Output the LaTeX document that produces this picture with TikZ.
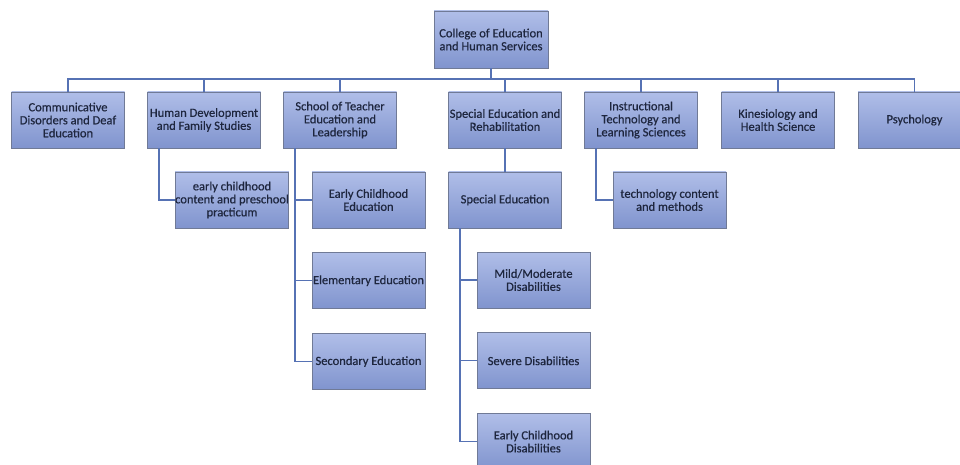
\documentclass[tikz,border=0pt]{standalone}
\usepackage{fontspec}
\setmainfont{Carlito}
\newfontfamily\boxfont{Carlito}[FakeBold=0.5]
\usetikzlibrary{positioning}

\definecolor{boxtop}{RGB}{176,190,232}
\definecolor{boxbot}{RGB}{128,148,206}
\definecolor{boxline}{RGB}{112,122,150}
\definecolor{linkblue}{RGB}{86,114,180}
\definecolor{ink}{RGB}{30,38,62}

\begin{document}
\begin{tikzpicture}[
        x=1pt, y=-1pt, % pixel grid, y runs down
        unit/.style = {draw=boxline, line width=0.8pt, top color=boxtop, bottom color=boxbot,
                minimum width=113pt, minimum height=56pt, align=center,
                inner sep=0pt, text=ink, font=\boxfont\fontsize{12.5}{13}\selectfont}, % Стиль блоков
        link/.style = {draw=linkblue, line width=1.3pt},
    ]
    \useasboundingbox (0,0) rectangle (960,465);

    % top
    \node[unit, minimum width=114pt, minimum height=57pt] (coll) at (491,39.5) {College of Education\\and Human Services};

    % departments
    \node[unit] (comm) at (68,120) {Communicative\\Disorders and Deaf\\Education};
    \node[unit] (hdfs) at (204,120) {Human Development\\and Family Studies};
    \node[unit] (stel) at (340,120) {School of Teacher\\Education and\\Leadership};
    \node[unit] (sper) at (505,120) {Special Education and\\Rehabilitation};
    \node[unit] (itls) at (641,120) {Instructional\\Technology and\\Learning Sciences};
    \node[unit] (kin) at (778,120) {Kinesiology and\\Health Science};
    \node[unit] (psy) at (914.5,120) {Psychology};

    % programs
    \node[unit] (ecc) at (232,200) {early childhood\\content and preschool\\practicum};
    \node[unit] (ece) at (368.5,200) {Early Childhood\\Education};
    \node[unit, below=24pt of ece] (elem) {Elementary Education};
    \node[unit, below=24pt of elem] (sec) {Secondary Education};
    \node[unit] (sed) at (505,200) {Special Education};
    \node[unit] (mild) at (533.5,280) {Mild/Moderate\\Disabilities};
    \node[unit, below=24pt of mild] (sev) {Severe Disabilities};
    \node[unit, below=24pt of sev] (ecd) {Early Childhood\\Disabilities};
    \node[unit] (tcm) at (669.5,200) {technology content\\and methods};

    % connectors
    \coordinate (bus) at (491,79);
    \draw[link] (coll.south) -- (bus);
    \foreach \d in {comm,hdfs,stel,sper,itls,kin,psy}
        \draw[link] (\d.north) |- (bus);
    \draw[link] ([xshift=12pt]hdfs.south west) |- (ecc.west);
    \foreach \p in {ece,elem,sec}
        \draw[link] ([xshift=12pt]stel.south west) |- (\p.west);
    \draw[link] (sper.south) -- (sed.north);
    \foreach \p in {mild,sev,ecd}
        \draw[link] ([xshift=12pt]sed.south west) |- (\p.west);
    \draw[link] ([xshift=12pt]itls.south west) |- (tcm.west);

\end{tikzpicture}
\end{document}
